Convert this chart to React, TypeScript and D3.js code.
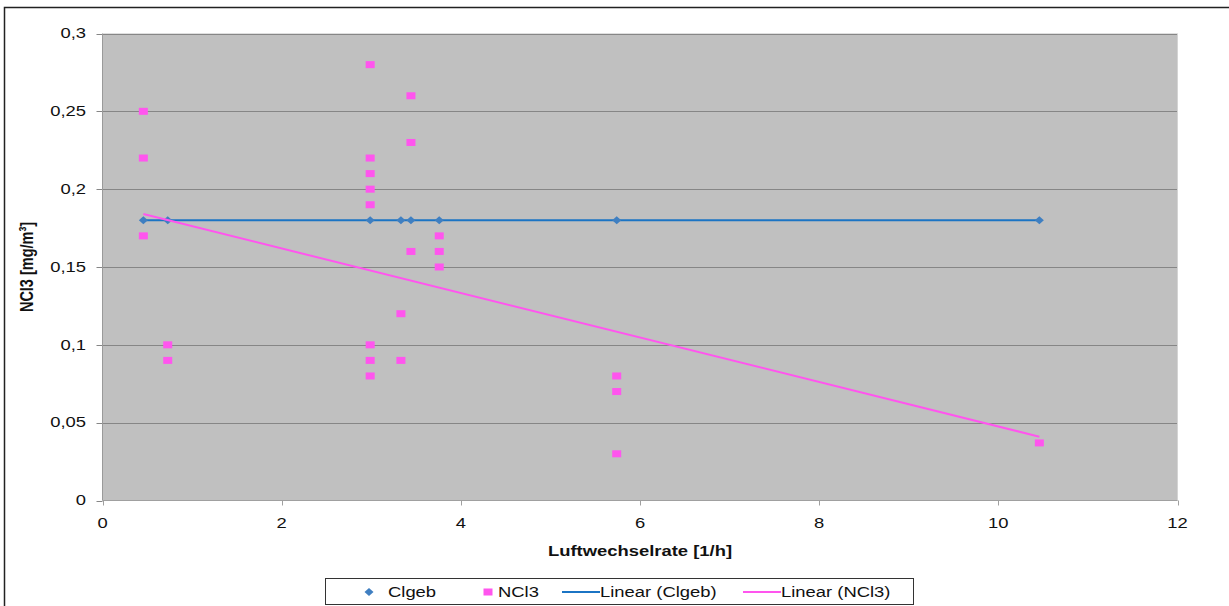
import React from "react";
import * as d3 from "d3";

const clgebX = [0.456, 0.728, 2.988, 3.331, 3.443, 3.759, 5.74, 10.458];
const clgebY = [0.18, 0.18, 0.18, 0.18, 0.18, 0.18, 0.18, 0.18];

const ncl3X = [
  0.456, 0.456, 0.456,
  0.728, 0.728,
  2.988, 2.988, 2.988, 2.988, 2.988, 2.988, 2.988, 2.988,
  3.331, 3.331,
  3.443, 3.443, 3.443,
  3.759, 3.759, 3.759,
  5.74, 5.74, 5.74,
  10.458,
];
const ncl3Y = [
  0.25, 0.22, 0.17,
  0.1, 0.09,
  0.28, 0.22, 0.21, 0.2, 0.19, 0.1, 0.09, 0.08,
  0.12, 0.09,
  0.26, 0.23, 0.16,
  0.17, 0.16, 0.15,
  0.08, 0.07, 0.03,
  0.037,
];

const trendClgebX = [0.456, 10.458];
const trendClgebY = [0.18, 0.18];
const trendNcl3X = [0.456, 10.458];
const trendNcl3Y = [0.184, 0.041];

const xTicks = [0, 2, 4, 6, 8, 10, 12];
const yTicks = [0, 0.05, 0.1, 0.15, 0.2, 0.25, 0.3];

const legendLabels = ["Clgeb", "NCl3", "Linear (Clgeb)", "Linear (NCl3)"];
const xTitle = "Luftwechselrate [1/h]";
const yTitle = "NCl3 [mg/m³]";

const FONT = "'Liberation Sans', Arial, sans-serif";
const SX = 1.27;
const BLUE_MARK = "#3F7FC1";
const BLUE_LINE = "#1B74C4";
const PINK = "#FF55EE";

export default function App() {
  const left = 102.5;
  const right = 1177.5;
  const top = 33.5;
  const bottom = 500.5;
  const x = d3.scaleLinear().domain([0, 12]).range([left, right]);
  const y = d3.scaleLinear().domain([0, 0.3]).range([bottom, top]);
  const fmt = (v: number) => String(+v.toFixed(2)).replace(".", ",");

  const line = d3
    .line<[number, number]>()
    .x((d) => x(d[0]))
    .y((d) => y(d[1]));

  const trendC = trendClgebX.map((v, i) => [v, trendClgebY[i]] as [number, number]);
  const trendN = trendNcl3X.map((v, i) => [v, trendNcl3Y[i]] as [number, number]);

  const sText = (
    tx: number,
    ty: number,
    s: string,
    anchor: string,
    opts: { size?: number; bold?: boolean } = {}
  ) => (
    <text
      transform={`translate(${tx},${ty}) scale(${SX},1)`}
      textAnchor={anchor}
      dominantBaseline="central"
      fontFamily={FONT}
      fontSize={opts.size ?? 14.5}
      fontWeight={opts.bold ? "bold" : "normal"}
      fill="#111"
    >
      {s}
    </text>
  );

  const diamond = (cx: number, cy: number, key: any) => (
    <path
      key={key}
      d={`M${cx - 4.5},${cy} L${cx},${cy - 4} L${cx + 4.5},${cy} L${cx},${cy + 4} Z`}
      fill={BLUE_MARK}
    />
  );
  const square = (cx: number, cy: number, key: any) => (
    <rect key={key} x={cx - 4.5} y={cy - 3.5} width={9} height={7} fill={PINK} />
  );

  const ly = 592;

  return (
    <svg
      width={1229}
      height={606}
      style={{ position: "absolute", left: 0, top: 0, background: "#fff" }}
    >
      <rect x={4.5} y={7.5} width={1300} height={700} fill="#fff" stroke="#222" strokeWidth={1.5} />
      <rect x={left} y={top} width={right - left} height={bottom - top} fill="#C0C0C0" />
      {yTicks.map((t) => (
        <g key={"gy" + t}>
          {t > 0 && (
            <line x1={left} x2={right} y1={Math.round(y(t)) + 0.5} y2={Math.round(y(t)) + 0.5} stroke="#868686" />
          )}
          <line x1={left - 6} x2={left} y1={Math.round(y(t)) + 0.5} y2={Math.round(y(t)) + 0.5} stroke="#868686" />
          {sText(86, y(t), fmt(t), "end")}
        </g>
      ))}
      <line x1={right} x2={right} y1={top} y2={bottom} stroke="#D4D4D4" />
      <line x1={left} x2={left} y1={top} y2={bottom} stroke="#9A9A9A" />
      <line x1={left} x2={right} y1={bottom} y2={bottom} stroke="#A0A0A0" />
      {xTicks.map((t) => (
        <g key={"gx" + t}>
          <line x1={Math.round(x(t)) + 0.5} x2={Math.round(x(t)) + 0.5} y1={bottom} y2={bottom + 5} stroke="#A0A0A0" />
          {sText(x(t), 523, String(t), "middle")}
        </g>
      ))}

      <path d={line(trendC) || ""} stroke={BLUE_LINE} strokeWidth={2} fill="none" />
      {clgebX.map((v, i) => diamond(x(v), y(clgebY[i]), "c" + i))}
      {ncl3X.map((v, i) => square(x(v), y(ncl3Y[i]), "n" + i))}
      <path d={line(trendN) || ""} stroke={PINK} strokeWidth={2} fill="none" />

      {sText(640, 551, xTitle, "middle", { bold: true })}
      <text
        transform={`translate(27,267) scale(${SX},1) rotate(-90)`}
        textAnchor="middle"
        dominantBaseline="central"
        fontFamily={FONT}
        fontSize={14.5}
        fontWeight="bold"
        fill="#111"
      >
        {yTitle}
      </text>

      <rect x={325.5} y={578.5} width={588} height={26} fill="#fff" stroke="#333" />
      {diamond(369, ly, "ld")}
      {sText(388, ly, legendLabels[0], "start")}
      {square(488, ly, "ls")}
      {sText(498, ly, legendLabels[1], "start")}
      <line x1={562} x2={600} y1={ly} y2={ly} stroke={BLUE_LINE} strokeWidth={2} />
      {sText(600, ly, legendLabels[2], "start")}
      <line x1={743} x2={781} y1={ly} y2={ly} stroke={PINK} strokeWidth={2} />
      {sText(781, ly, legendLabels[3], "start")}
    </svg>
  );
}
